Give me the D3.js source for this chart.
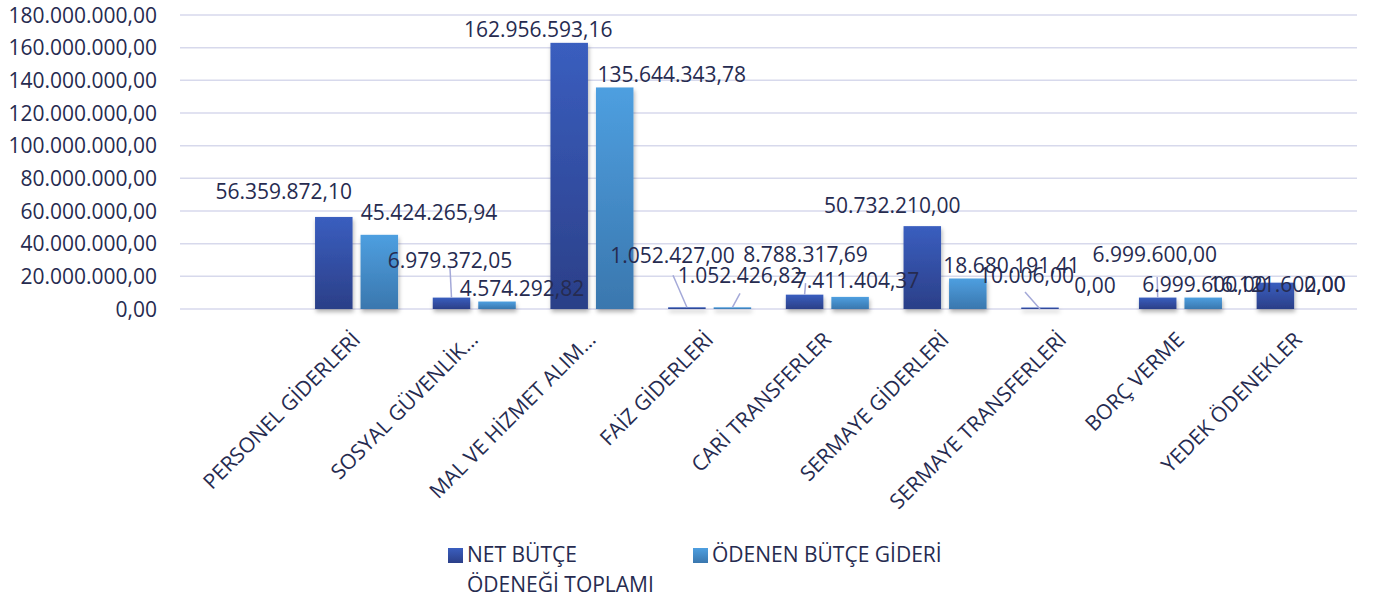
<!DOCTYPE html>
<meta charset="utf-8">
<head>
  <title>Bütçe giderleri</title>
</head>

<style>
body {
  margin: 0;
  background: #fff;
  font-family: "Open Sans", "Noto Sans", sans-serif;
}
text {
  fill: #262b50;
  font-size: 21px;
}
.grid line {
  stroke: #d7d9ec;
  stroke-width: 1.5px;
}
.leader {
  stroke: #a4a9d8;
  stroke-width: 1.5px;
}
</style>

<body>
<svg id="chart" width="1373" height="599"></svg>

<script src="https://cdnjs.cloudflare.com/ajax/libs/d3/7.8.5/d3.min.js"></script>
<script>
// the first category is empty in the source sheet
var categories = ["", "PERSONEL GİDERLERİ", "SOSYAL GÜVENLİK…", "MAL VE HİZMET ALIM…",
  "FAİZ GİDERLERİ", "CARİ TRANSFERLER", "SERMAYE GİDERLERİ",
  "SERMAYE TRANSFERLERİ", "BORÇ VERME", "YEDEK ÖDENEKLER"];

var netBudget = [null, 56359872.10, 6979372.05, 162956593.16, 1052427.00,
  8788317.69, 50732210.00, 10006.00, 6999600.00, 16121602.00];

var paidBudget = [null, 45424265.94, 4574292.82, 135644343.78, 1052426.82,
  7411404.37, 18680191.41, 0, 6999600.00, 0];

var yTicks = [0, 20e6, 40e6, 60e6, 80e6, 100e6, 120e6, 140e6, 160e6, 180e6];

var seriesNames = [["NET BÜTÇE", "ÖDENEĞİ TOPLAMI"], ["ÖDENEN BÜTÇE GİDERİ"]];

// label nudges (px from bar top centre) – the labels were dragged by hand in the sheet
var netLabelOffset = [null, [-50, -26], [-1.5, -37.6], [-31, -13], [-14.4, -52], [1, -40],
  [-30, -21], [-13.5, -34], [-3, -43.6], [2, 1.3]];
var paidLabelOffset = [null, [49.7, -22.8], [25, -13.5], [57, -13], [7.6, -32], [7, -16.4],
  [43.7, -13.5], [9.5, -23.5], [1.3, -13.6], [4, -25]];
// leader line start, relative to label centre
var netLeader = [null, null, [0, 8], null, [0.5, 20], [0, 28.5], null, [-1.5, 17], [2.5, 23], null];
var paidLeader = [null, null, null, null, [0, 18], null, null, null, null, null];

var locale = d3.formatLocale({decimal: ",", thousands: ".", grouping: [3], currency: ["", " ₺"]});
var fmt = locale.format(",.2f");

var svg = d3.select("#chart");
var plotL = 180, plotR = 1357, plotT = 15, plotB = 309;

var x = d3.scaleBand().domain(d3.range(categories.length)).range([plotL, plotR]);
var inner = d3.scaleBand().domain([0, 1]).range([0, x.bandwidth()])
  .paddingInner(0.176).paddingOuter(0.381);
var y = d3.scaleLinear().domain([0, 180e6]).range([plotB, plotT]);

var defs = svg.append("defs");
function grad(id, c1, c2) {
  var g = defs.append("linearGradient").attr("id", id)
    .attr("x1", 0).attr("y1", 0).attr("x2", 0).attr("y2", 1);
  g.append("stop").attr("offset", "0%").attr("stop-color", c1);
  g.append("stop").attr("offset", "100%").attr("stop-color", c2);
}
grad("gNet", "#3a5ebf", "#2b3f88");
grad("gPaid", "#4e9fe0", "#3a77ae");
var f = defs.append("filter").attr("id", "shadow")
  .attr("x", "-20%").attr("y", "-20%").attr("width", "140%").attr("height", "140%")
  .attr("filterUnits", "userSpaceOnUse");
f.attr("x", 0).attr("y", 0).attr("width", 1373).attr("height", 599);
f.append("feDropShadow").attr("dx", 1).attr("dy", 3).attr("stdDeviation", 2)
  .attr("flood-color", "#000").attr("flood-opacity", 0.3);

// gridlines
svg.append("g").attr("class", "grid")
  .selectAll("line").data(yTicks).join("line")
  .attr("x1", plotL).attr("x2", plotR)
  .attr("y1", function(d) { return y(d); })
  .attr("y2", function(d) { return y(d); });

// y labels
svg.append("g").selectAll("text").data(yTicks).join("text")
  .attr("x", 157)
  .attr("y", function(d) { return y(d); })
  .attr("dy", "0.36em")
  .attr("text-anchor", "end")
  .text(fmt);

var series = [
  {values: netBudget, fill: "url(#gNet)", off: netLabelOffset, leader: netLeader},
  {values: paidBudget, fill: "url(#gPaid)", off: paidLabelOffset, leader: paidLeader}
];

function barX(i, s) { return x(i) + inner(s); }
function barCx(i, s) { return barX(i, s) + inner.bandwidth() / 2; }
function barTop(v) { return v > 0 ? Math.min(y(v), plotB - 1.5) : plotB; }

series.forEach(function(sr, s) {
  var idx = d3.range(categories.length).filter(function(i) { return sr.values[i] > 0; });
  svg.append("g").selectAll("rect").data(idx)
    .join("rect")
    .attr("x", function(i) { return barX(i, s); })
    .attr("width", inner.bandwidth())
    .attr("y", function(i) { return barTop(sr.values[i]); })
    .attr("height", function(i) { return plotB - barTop(sr.values[i]); })
    .attr("fill", sr.fill)
    .attr("filter", "url(#shadow)");
});

series.forEach(function(sr, s) {
  var idx = d3.range(categories.length).filter(function(i) { return sr.values[i] !== null; });
  var g = svg.append("g");
  idx.forEach(function(i) {
    var cx = barCx(i, s), ty = y(sr.values[i]);
    var lx = cx + sr.off[i][0], ly = ty + sr.off[i][1];
    if (sr.leader[i]) {
      g.append("line").attr("class", "leader")
        .attr("x1", lx + sr.leader[i][0]).attr("y1", ly + sr.leader[i][1])
        .attr("x2", cx).attr("y2", ty);
    }
    g.append("text")
      .attr("x", lx).attr("y", ly).attr("dy", "0.36em")
      .attr("text-anchor", "middle")
      .text(fmt(sr.values[i]));
  });
});

// category labels
svg.append("g").selectAll("text").data(d3.range(1, categories.length)).join("text")
  .attr("transform", function(i) {
    return "translate(" + (x(i) + x.bandwidth() / 2 + 5) + ",341) rotate(-45)";
  })
  .attr("text-anchor", "end")
  .text(function(i) { return categories[i]; });

// legend
var legendX = [448, 693];
var leg = svg.append("g");
seriesNames.forEach(function(lines, s) {
  leg.append("rect").attr("x", legendX[s]).attr("y", 548)
    .attr("width", 15).attr("height", 15).attr("fill", series[s].fill);
  lines.forEach(function(t, k) {
    leg.append("text").attr("x", legendX[s] + 19).attr("y", 562 + k * 30).text(t);
  });
});
</script>
</body>
</html>
